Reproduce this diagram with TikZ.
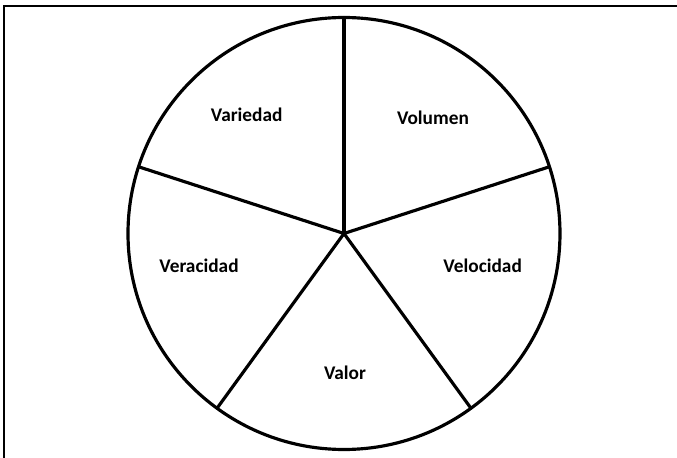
\documentclass[tikz,border=0pt]{standalone}
\usepackage{fontspec}
\setmainfont{Carlito}
\usetikzlibrary{positioning}

\begin{document}
\begin{tikzpicture}[
  wheel/.style={draw, circle, line width=2.7pt, minimum size=12.96cm,
                inner sep=0pt, outer sep=0pt},
  spoke/.style={line width=2.7pt},
  frame/.style={line width=1.6pt},
  sector/.style={font=\fontsize{16.5}{19}\selectfont\bfseries},
]
\useasboundingbox (-10.32, -6.735) rectangle (9.99, 7.005);

% outer frame (only left and top edges show)
\coordinate (F1) at (-10.19, -6.735);
\coordinate (F2) at (-10.19, 6.825);
\coordinate (F3) at (9.99, 6.825);
\draw[frame] (F1) -- (F2) -- (F3);

% the wheel and its five spokes
\node[wheel] (W) at (0, 0) {};
\foreach \a in {90, 18, 306, 234, 162}
  \draw[spoke, line cap=round] (W.center) -- (W.\a);

% Labels
\node[sector] (Var) at (-2.92, 3.56) {Variedad};
\node[sector] (Vol) at (2.67, 3.47) {Volumen};
\node[sector] (Ver) at (-4.35, -0.98) {Veracidad};
\node[sector] (Vel) at (4.16, -0.98) {Velocidad};
\node[sector] (Val) at (0.03, -4.19) {Valor};
\end{tikzpicture}
\end{document}
